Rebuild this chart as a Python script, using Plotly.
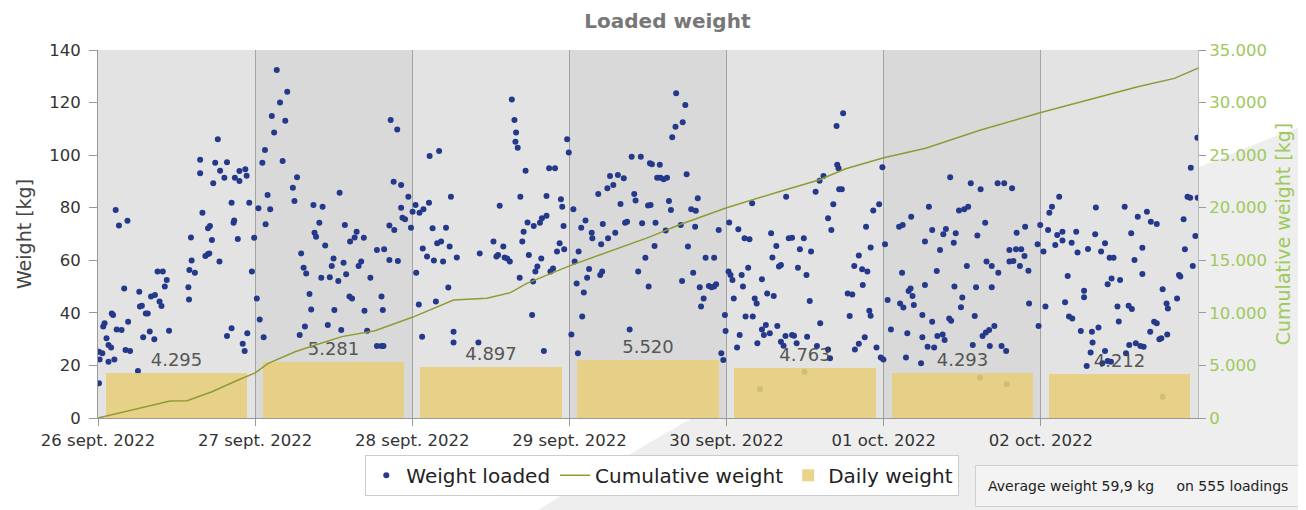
import pandas as pd
import plotly.graph_objects as go

BASE = pd.Timestamp("2022-09-26")

# ---------------- data ----------------
load_hours = [
 0.15,0.15,0.25,0.66,0.8,1.0,1.3,1.6,1.6,2.0,2.1,2.3,2.5,2.7,2.85,3.2,3.6,4.0,4.2,4.5,4.6,4.9,6.1,6.3,6.4,6.7,6.9,7.3,7.6,7.9,
 8.1,8.6,8.7,9.1,9.4,9.7,9.9,10.2,10.5,10.85,13.8,13.9,13.96,14.2,14.3,14.8,15.6,15.6,15.95,16.4,16.8,16.8,17.0,17.1,17.4,17.6,17.9,18.3,18.55,18.65,
 19.3,19.7,19.7,20.4,20.4,20.7,20.8,20.9,21.35,21.6,21.6,22.1,22.4,22.5,22.7,22.8,23.1,23.5,23.85,
 24.25,24.5,24.7,25.1,25.3,25.5,25.6,25.9,26.3,26.55,26.9,27.3,27.8,28.2,28.6,28.9,29.76,30.0,30.4,30.8,31.03,31.4,31.6,31.8,32.3,32.56,32.9,33.07,33.3,33.8,
 34.1,34.3,34.7,35.1,35.4,35.7,35.97,36.1,36.7,36.9,37.15,37.5,37.7,37.9,38.4,38.5,38.8,39.2,39.5,39.8,40.2,40.6,40.7,41.1,41.6,42.6,42.6,43.3,43.3,43.5,
 43.6,43.7,44.5,44.5,44.7,45.15,45.25,45.7,45.8,46.3,46.3,46.5,46.9,47.4,47.8,
 48.05,48.5,48.6,49.0,49.1,49.5,49.6,49.7,50.25,50.55,50.65,51.1,51.3,51.6,51.8,52.1,52.4,52.7,53.15,53.5,53.7,53.9,54.3,54.3,54.8,58.1,58.3,60.4,60.85,61.1,
 61.35,61.9,62.1,62.5,62.9,63.2,63.6,63.75,63.85,64.1,64.4,64.5,64.8,65.0,65.3,65.6,65.8,66.3,66.45,66.55,66.8,67.1,67.5,67.7,67.8,68.1,68.5,68.5,68.9,69.1,
 69.5,69.8,70.1,70.5,70.7,70.9,71.1,71.2,71.65,71.9,
 72.3,72.6,72.8,73.1,73.3,73.4,73.8,73.95,74.2,74.45,74.7,75.0,75.4,75.5,76.4,76.7,76.85,77.0,77.1,77.8,77.9,78.2,78.7,79.0,79.4,79.8,80.3,80.5,80.8,81.2,
 81.5,81.9,82.1,82.5,82.9,83.1,83.6,84.0,84.1,84.3,84.4,84.6,85.0,85.15,85.4,85.8,85.9,86.4,86.7,86.9,87.2,87.5,87.7,88.2,88.3,89.0,89.2,89.3,89.7,89.9,
 90.1,90.6,90.9,91.2,91.3,91.6,91.9,92.1,92.5,92.8,93.3,93.7,94.1,94.1,94.4,94.8,95.2,95.5,95.75,95.85,
 96.3,96.4,96.6,96.9,97.1,97.6,97.8,98.0,98.3,98.5,98.75,98.9,99.3,99.5,99.9,100.0,100.3,100.6,100.7,101.1,101.4,101.4,101.7,102.0,102.2,102.6,102.8,103.0,103.2,103.6,
 103.75,104.0,104.3,104.3,104.7,105.0,105.1,105.5,106.0,106.0,106.3,106.7,106.9,107.2,107.8,107.9,108.2,108.3,108.7,108.9,109.6,109.8,110.2,110.3,110.8,111.5,111.5,111.8,112.0,112.3,
 112.8,112.9,113.1,113.2,113.6,113.8,114.5,114.8,115.2,115.5,115.6,116.2,116.2,116.7,116.8,117.1,117.3,117.5,117.8,118.0,118.0,118.4,118.9,119.3,119.55,119.8,119.95,
 120.2,120.6,121.1,122.35,122.5,122.8,122.9,123.0,123.4,123.6,123.8,124.1,124.2,124.4,124.6,125.7,125.9,125.9,126.3,126.3,126.7,126.9,127.4,127.4,127.7,128.1,128.2,128.6,129.0,129.1,
 129.3,129.5,130.0,130.15,130.3,130.7,130.8,131.0,131.5,131.8,132.0,132.3,132.7,132.9,133.3,133.6,133.9,134.1,134.3,134.7,134.8,135.1,135.5,135.6,135.7,136.1,136.2,136.5,136.5,136.9,
 137.4,137.5,138.0,138.4,138.7,138.8,139.2,139.2,139.6,139.8,140.2,140.3,140.8,141.0,141.5,141.6,142.1,142.2,143.5,143.65,143.9,
 144.4,144.7,145.1,145.3,145.7,146.2,146.5,146.8,147.3,147.3,147.7,148.1,148.3,148.7,148.8,149.4,149.6,150.1,150.6,150.6,151.0,151.2,151.6,151.8,151.9,152.3,152.4,152.8,153.2,153.4,
 153.8,153.8,154.2,154.2,154.5,154.7,154.8,155.1,155.7,155.9,156.1,156.8,157.0,157.4,157.5,157.8,157.9,158.3,158.5,158.8,159.2,159.5,159.5,159.7,160.2,160.7,160.8,161.3,161.7,161.7,
 162.1,162.4,162.6,162.6,163.2,163.3,163.4,164.8,165.1,165.3,165.8,166.0,166.4,166.8,166.9,167.2,167.6,167.9,167.95,
]
load_weights = [
 13.2,25.2,22.3,24.6,34.8,36.0,30.3,27.8,21.4,26.8,39.8,39.2,22.3,79.1,33.7,73.2,33.5,49.3,25.9,75.0,36.6,25.5,17.9,48.0,42.4,42.7,30.7,39.8,39.8,32.9,
 46.2,30.0,46.8,55.7,44.3,42.6,55.7,50.0,52.5,33.2,49.7,45.1,56.3,68.7,59.9,55.3,98.2,93.1,78.1,61.6,62.4,72.2,62.6,73.0,67.7,89.3,97.1,106.0,59.5,94.1,
 91.4,31.2,97.3,34.1,81.9,74.3,75.1,91.4,68.1,90.2,94.0,28.2,25.5,94.6,92.2,32.2,81.9,55.7,68.6,
 45.5,79.8,37.5,97.1,30.7,102.0,73.7,84.8,79.4,114.9,108.6,132.4,120.0,97.8,113.1,124.1,87.6,82.6,91.6,31.6,62.6,57.2,34.8,55.0,47.2,41.3,81.0,70.5,69.0,74.3,
 53.4,80.4,65.6,35.4,53.5,57.8,60.7,41.1,52.1,85.7,33.5,59.1,73.4,54.7,46.2,67.1,45.5,68.7,70.9,57.8,59.5,68.6,40.8,33.2,53.4,63.9,27.4,46.2,27.4,41.1,
 27.4,64.2,60.1,73.2,113.4,89.9,71.5,109.8,59.7,88.6,80.0,76.2,75.6,84.2,72.4,
 78.5,81.0,55.3,43.2,78.1,30.9,64.5,79.4,61.4,81.9,99.7,72.2,59.9,44.3,66.5,101.6,67.1,59.5,72.4,49.6,65.2,84.2,32.8,28.7,61.1,28.7,62.6,67.1,61.4,62.0,
 80.7,65.2,61.1,60.7,59.5,121.2,113.4,105.1,108.6,102.8,53.4,84.2,67.1,70.9,94.1,74.4,62.0,39.2,51.9,73.0,55.7,57.6,74.3,60.7,76.0,25.5,76.9,84.5,95.0,55.7,
 56.9,95.0,63.3,66.5,83.2,80.4,73.0,64.2,106.0,101.0,
 31.8,79.4,59.5,51.2,24.6,63.3,72.4,38.6,47.7,75.1,53.4,56.7,70.5,68.4,85.2,54.4,66.1,55.7,73.8,87.4,68.4,92.1,88.6,70.5,92.4,81.4,91.2,74.3,74.7,33.7,
 99.4,85.2,82.7,55.7,99.4,74.1,61.0,80.8,50.0,96.9,81.0,96.5,65.4,74.3,91.4,96.3,91.4,90.8,71.3,91.4,82.6,79.1,106.8,110.8,123.5,73.4,52.1,112.5,119.1,92.7,
 65.2,79.4,55.3,72.8,78.8,83.6,49.7,42.4,45.5,61.0,50.2,49.7,61.0,50.0,50.9,71.5,24.6,22.1,39.2,33.1,
 55.7,74.4,54.4,52.5,45.5,26.8,71.8,31.6,54.4,50.0,68.4,38.6,57.2,68.0,81.7,38.6,45.5,43.6,28.4,10.9,52.8,33.7,31.6,35.4,47.4,32.2,70.3,61.1,46.4,65.4,
 35.0,57.6,58.2,29.0,27.5,31.2,84.2,68.4,68.6,31.6,31.3,28.4,57.2,64.2,68.4,17.6,54.4,30.9,44.5,63.3,86.1,27.4,90.3,36.0,92.1,76.0,26.1,22.7,71.5,81.3,
 111.1,96.3,95.0,87.0,87.0,115.9,47.4,38.8,47.0,57.8,26.1,61.8,28.2,56.6,50.6,30.7,72.8,55.7,40.8,38.9,64.9,78.9,26.8,81.3,23.0,95.4,22.3,
 66.1,44.9,33.7,72.8,43.6,55.3,73.4,42.0,23.0,32.2,48.3,49.3,76.6,46.4,43.0,20.8,39.2,30.7,67.1,50.6,27.1,80.4,36.6,71.5,26.8,55.9,31.2,63.9,31.8,69.9,
 29.7,71.9,37.9,91.6,37.0,66.7,50.0,70.3,78.9,42.1,45.8,79.4,57.8,80.4,89.3,27.8,38.8,49.7,69.4,15.3,87.0,31.2,74.3,32.5,59.5,33.5,27.4,57.8,49.7,35.0,
 89.3,55.3,27.4,89.3,25.5,12.8,63.9,59.5,87.4,59.7,64.2,70.5,57.8,64.2,61.6,72.8,56.0,43.6,66.1,35.0,73.4,
 63.3,42.4,71.5,78.1,80.4,65.8,69.6,84.2,70.9,67.5,44.0,54.0,38.6,66.7,37.9,70.9,63.0,33.1,48.4,45.9,19.8,64.3,24.9,32.8,28.7,69.9,80.1,34.4,63.3,20.8,
 66.5,25.5,21.7,50.9,61.0,21.4,53.1,61.0,42.4,36.7,52.5,80.4,24.6,42.7,27.8,70.3,41.5,60.1,28.4,76.6,27.4,64.8,54.8,27.1,78.5,32.8,74.7,36.6,73.8,36.0,
 30.0,30.3,49.0,8.1,43.6,31.8,41.7,45.5,54.4,53.8,75.6,64.2,84.2,83.8,95.2,57.8,69.2,106.6,83.8,
]

cum_hours = [0, 6.1, 11, 13.6, 17.4, 21.4, 24, 26, 30.1, 33.2, 37.25, 42.3, 48, 54.3, 59.4, 63, 65.5,
             72, 77.25, 84.4, 88.7, 96, 104, 110.1, 114.2, 120, 126.4, 134.8, 144, 151.1, 158.8, 164.4, 168]
cum_values = [0, 920, 1620, 1650, 2500, 3610, 4295, 5200, 6300, 6940, 7740, 8300, 9576, 11220, 11380, 11920, 12810,
              14473, 15660, 17250, 18360, 19993, 21520, 22630, 23700, 24756, 25650, 27390, 29049, 30240, 31510, 32300, 33261]

days = ["2022-09-26", "2022-09-27", "2022-09-28", "2022-09-29", "2022-09-30", "2022-10-01", "2022-10-02"]
daily_weight = [4295, 5281, 4897, 5520, 4763, 4293, 4212]
tick_labels = ["26 sept. 2022", "27 sept. 2022", "28 sept. 2022", "29 sept. 2022",
               "30 sept. 2022", "01 oct. 2022", "02 oct. 2022"]

# ---------------- figure ----------------
load_times = BASE + pd.to_timedelta(load_hours, unit="h")
cum_times = BASE + pd.to_timedelta(cum_hours, unit="h")
day_starts = pd.to_datetime(days)
day_centers = day_starts + pd.Timedelta(hours=12)
DAY_MS = 86400000

FONT = "DejaVu Sans"
GREEN = "#9ec95b"

fig = go.Figure()
fig.add_trace(go.Scatter(
    x=load_times, y=load_weights, mode="markers", name="Weight loaded", legendrank=1,
    marker=dict(color="#24398a", size=6, line=dict(width=0)), yaxis="y"))
fig.add_trace(go.Bar(
    x=day_centers, y=daily_weight, name="Daily weight", yaxis="y2", legendrank=3,
    width=0.9 * DAY_MS, marker=dict(color="#e8cf7c", line=dict(width=0)), opacity=0.88,
    texttemplate="%{y:,d}", textposition="outside", cliponaxis=False,
    textfont=dict(family=FONT, size=18, color="#444444")))
fig.add_trace(go.Scatter(
    x=cum_times, y=cum_values, mode="lines", name="Cumulative weight", yaxis="y2", legendrank=2,
    line=dict(color="#8e9b34", width=1.5)))

shapes = [
    # light grey swoosh in the page background
    dict(type="path", xref="paper", yref="paper",
         path="M 0.40,-0.25 Q 0.75,0.40 1.1,0.80 L 1.1,-0.25 Z",
         fillcolor="#eeeeee", line=dict(width=0), layer="below"),
    # plot-area background (drawn over the swoosh)
    dict(type="rect", xref="paper", yref="paper", x0=0, x1=1, y0=0, y1=1,
         fillcolor="#e3e3e3", line=dict(width=0), layer="below"),
]
for i, d in enumerate(day_starts):
    if i % 2 == 1:
        shapes.append(dict(type="rect", xref="x", yref="y", x0=d, x1=d + pd.Timedelta(days=1),
                           y0=0, y1=140, fillcolor="#d9d9d9", line=dict(width=0), layer="below"))

# the page body has an 8px margin: figure sized so the page is 1306x510
fig.update_layout(
    width=1298, height=502,
    margin=dict(l=90, r=108, t=42, b=92, autoexpand=False),
    paper_bgcolor="white", plot_bgcolor="rgba(0,0,0,0)",
    separators=",.",
    font=dict(family=FONT, color="#444444"),
    title=dict(text="<b>Loaded weight</b>", x=0.508, xanchor="center", y=0.975, yanchor="middle",
               font=dict(family=FONT, size=20, color="#777777")),
    bargap=0,
    shapes=shapes,
    showlegend=True,
    legend=dict(orientation="h", x=0.513, xanchor="center", y=-0.1, yanchor="top",
                bgcolor="white", bordercolor="#cccccc", borderwidth=1,
                font=dict(family=FONT, size=20, color="#222222"),
                itemwidth=30),
    xaxis=dict(type="date", range=[BASE, BASE + pd.Timedelta(days=7)], automargin=False,
               tickvals=day_starts, ticktext=tick_labels,
               tickfont=dict(family=FONT, size=16.5, color="#333333"),
               ticks="outside", ticklen=7, tickcolor="#999999",
               showgrid=True, gridcolor="#a3a3a3", gridwidth=1,
               showline=True, linecolor="#999999", linewidth=1, zeroline=False),
    yaxis=dict(range=[0, 140], dtick=20, automargin=False,
               tickfont=dict(family=FONT, size=16.5, color="#333333"),
               ticks="outside", ticklen=8, tickcolor="#999999", ticklabelstandoff=5,
               showgrid=False, zeroline=False, showline=True, linecolor="#999999",
               title=dict(text="Weight [kg]", font=dict(family=FONT, size=19, color="#444444"), standoff=12)),
    yaxis2=dict(range=[0, 35000], dtick=5000, tickformat=",d", overlaying="y", side="right", automargin=False,
                tickfont=dict(family=FONT, size=16.5, color=GREEN),
                ticks="outside", ticklen=7, tickcolor="#999999",
                showgrid=False, zeroline=False, showline=True, linecolor="#bbbbbb",
                title=dict(text="Cumulative weight [kg]", font=dict(family=FONT, size=19, color=GREEN), standoff=10)),
    annotations=[dict(text="Average weight 59,9 kg     on 555 loadings", xref="paper", yref="paper",
                      x=0.797, xanchor="left", y=-0.128, yanchor="top", showarrow=False, align="left",
                      width=350, font=dict(family=FONT, size=14, color="#222222"),
                      bgcolor="#f3f3f3", bordercolor="#d0d0d0", borderwidth=1, borderpad=12)],
)

fig.write_html("out.html")
